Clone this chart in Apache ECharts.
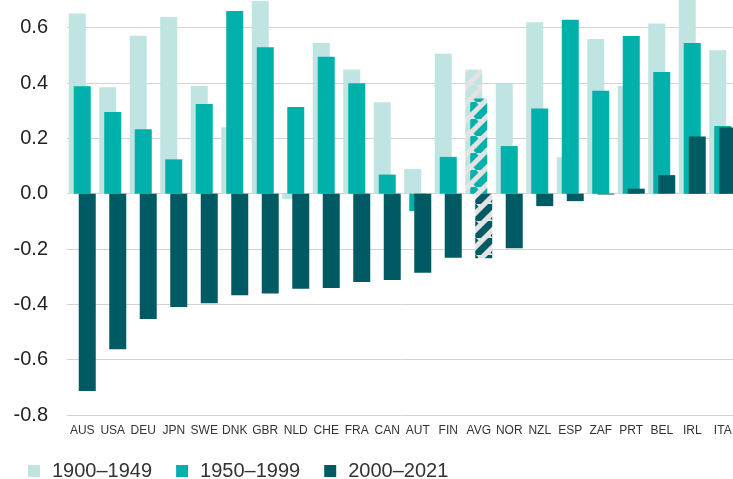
<!DOCTYPE html>
<html>
<head>
<meta charset="utf-8">
<script src="https://cdn.jsdelivr.net/npm/echarts@6/dist/echarts.min.js"></script>
<style>
html, body { margin: 0; padding: 0; background: #fff; }
#main { width: 733px; height: 479px; }
</style>
</head>
<body>
<div id="main"></div>
<script>
var categories = ['AUS', 'USA', 'DEU', 'JPN', 'SWE', 'DNK', 'GBR', 'NLD', 'CHE', 'FRA', 'CAN',
    'AUT', 'FIN', 'AVG', 'NOR', 'NZL', 'ESP', 'ZAF', 'PRT', 'BEL', 'IRL', 'ITA'];
var seriesNames = ['1900\u20131949', '1950\u20131999', '2000\u20132021'];
var p1900 = [0.651, 0.385, 0.571, 0.639, 0.389, 0.240, 0.696, -0.020, 0.545, 0.449, 0.330,
    0.089, 0.506, 0.449, 0.399, 0.620, 0.132, 0.559, 0.389, 0.615, 0.720, 0.518];
var p1950 = [0.388, 0.295, 0.233, 0.124, 0.324, 0.660, 0.529, 0.313, 0.495, 0.399, 0.069,
    -0.063, 0.133, 0.344, 0.172, 0.308, 0.629, 0.372, 0.570, 0.440, 0.545, 0.245];
var p2000 = [-0.713, -0.562, -0.453, -0.410, -0.396, -0.367, -0.361, -0.344, -0.341, -0.319, -0.312,
    -0.286, -0.232, -0.233, -0.197, -0.045, -0.027, -0.003, 0.018, 0.067, 0.207, 0.239];
var yTicks = [-0.8, -0.6, -0.4, -0.2, 0.0, 0.2, 0.4, 0.6];

var colors = ['#bfe4e1', '#00b0aa', '#005a63'];
var font = 'Liberation Sans';

// hatched fill for the average bars
function stripes(bg, fg) {
    var P = 17;
    var c = document.createElement('canvas');
    c.width = P; c.height = P;
    var ctx = c.getContext('2d');
    ctx.fillStyle = bg;
    ctx.fillRect(0, 0, P, P);
    ctx.strokeStyle = fg;
    ctx.lineWidth = 7;
    ctx.beginPath();
    for (var k = -1; k <= 1; k++) {
        ctx.moveTo(k * P, P);
        ctx.lineTo(k * P + P, 0);
    }
    ctx.stroke();
    return c;
}

function makeData(values, idx) {
    var pat = stripes('#e3e3e3', colors[idx]);
    return values.map(function (v, i) {
        if (categories[i] === 'AVG') {
            return { value: v, itemStyle: { color: { image: pat, repeat: 'repeat' } } };
        }
        return v;
    });
}

var chart = echarts.init(document.getElementById('main'));
var option = {
    animation: false,
    color: colors,
    grid: { left: 67, right: -5, top: 0, bottom: 64, outerBoundsMode: 'none' },
    legend: {
        left: 23,
        top: 456,
        itemWidth: 12,
        itemHeight: 12,
        itemGap: 24,
        icon: 'rect',
        data: seriesNames,
        textStyle: { fontFamily: font, fontSize: 20, color: '#333', padding: [0, 0, 0, 7] }
    },
    xAxis: {
        type: 'category',
        data: categories,
        axisLine: { show: false },
        axisTick: { show: false },
        axisLabel: { fontFamily: font, fontSize: 12, color: '#333', margin: 10, interval: 0 }
    },
    yAxis: {
        type: 'value',
        min: -0.8,
        max: 0.7,
        interval: 0.2,
        axisLine: { show: false },
        axisTick: { show: false },
        splitLine: { showMaxLine: false, lineStyle: { color: '#d2d2d2', width: 1 } },
        axisLabel: {
            showMaxLabel: false,
            fontFamily: font,
            fontSize: 20,
            color: '#222',
            margin: 19,
            formatter: function (v) {
                for (var i = 0; i < yTicks.length; i++) {
                    if (Math.abs(yTicks[i] - v) < 1e-6) return yTicks[i].toFixed(1);
                }
                return '';
            }
        }
    },
    series: [p1900, p1950, p2000].map(function (vals, i) {
        return {
            name: seriesNames[i],
            type: 'bar',
            barWidth: 17,
            barGap: '-70.6%',
            data: makeData(vals, i)
        };
    })
};
chart.setOption(option);
</script>
</body>
</html>
